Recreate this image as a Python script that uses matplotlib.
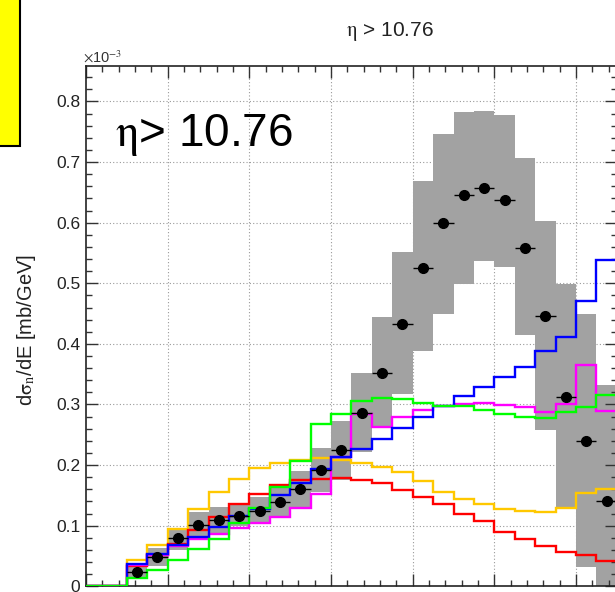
import numpy as np
import matplotlib
matplotlib.use("Agg")
import matplotlib.pyplot as plt
from matplotlib.patches import Rectangle
from matplotlib.ticker import MultipleLocator, FuncFormatter

plt.rcParams['font.family'] = ['Liberation Sans', 'DejaVu Sans']
plt.rcParams['mathtext.fontset'] = 'stix'

# ---------------- data (units: 1e-3 mb/GeV) ----------------
bin_width = 250.0
edges = np.arange(27) * bin_width          # 0 .. 6500 GeV

red     = [0, 0, 0.033, 0.051, 0.069, 0.093, 0.115, 0.136, 0.152, 0.167, 0.175, 0.177, 0.178,
           0.175, 0.170, 0.159, 0.148, 0.135, 0.120, 0.107, 0.090, 0.078, 0.066, 0.057, 0.051, 0.041]
orange  = [0, 0, 0.044, 0.068, 0.095, 0.128, 0.156, 0.177, 0.195, 0.204, 0.208, 0.211, 0.208,
           0.204, 0.197, 0.188, 0.173, 0.156, 0.144, 0.136, 0.127, 0.125, 0.123, 0.130, 0.154, 0.161]
blue    = [0, 0, 0.037, 0.053, 0.068, 0.081, 0.098, 0.116, 0.127, 0.151, 0.170, 0.193, 0.214,
           0.226, 0.243, 0.261, 0.279, 0.297, 0.314, 0.329, 0.345, 0.362, 0.389, 0.411, 0.471, 0.538]
magenta = [0, 0, 0.035, 0.051, 0.066, 0.078, 0.087, 0.096, 0.104, 0.115, 0.130, 0.152, 0.213,
           0.285, 0.263, 0.280, 0.291, 0.298, 0.301, 0.303, 0.299, 0.296, 0.288, 0.300, 0.365, 0.289]
green   = [0, 0, 0.014, 0.027, 0.043, 0.061, 0.078, 0.105, 0.130, 0.164, 0.207, 0.267, 0.285,
           0.306, 0.310, 0.309, 0.302, 0.298, 0.297, 0.291, 0.285, 0.280, 0.277, 0.287, 0.296, 0.315]

# measured data (bins 2..25)
data_bins = np.arange(2, 26)
data_val = [0.023, 0.049, 0.079, 0.101, 0.109, 0.116, 0.124, 0.139, 0.160, 0.192, 0.225, 0.286,
            0.352, 0.432, 0.526, 0.599, 0.645, 0.657, 0.637, 0.559, 0.446, 0.312, 0.239, 0.141]
data_stat = [0.004, 0.004, 0.004, 0.004, 0.004, 0.004, 0.004, 0.004, 0.005, 0.005, 0.005, 0.006,
             0.006, 0.007, 0.007, 0.008, 0.008, 0.008, 0.008, 0.008, 0.008, 0.008, 0.008, 0.008]
sys_hi = [0.033, 0.063, 0.093, 0.122, 0.131, 0.134, 0.147, 0.162, 0.191, 0.228, 0.272, 0.352,
          0.444, 0.551, 0.668, 0.746, 0.782, 0.785, 0.778, 0.706, 0.602, 0.499, 0.449, 0.332]
sys_lo = [0.013, 0.033, 0.060, 0.078, 0.086, 0.099, 0.104, 0.114, 0.129, 0.156, 0.175, 0.222,
          0.264, 0.318, 0.389, 0.450, 0.499, 0.536, 0.527, 0.415, 0.258, 0.131, 0.032, 0.000]

ytick_vals = [0, 0.1, 0.2, 0.3, 0.4, 0.5, 0.6, 0.7, 0.8]

# ---------------- figure ----------------
W, H = 615, 592
fig = plt.figure(figsize=(W / 100, H / 100), dpi=100)
fig.patch.set_facecolor('white')

x0_px, xr_px = 86.0, 616.9
y0_px, yt_px = 586.3, 65.7
ax = fig.add_axes([x0_px / W, (H - y0_px) / H, (xr_px - x0_px) / W, (y0_px - yt_px) / H])
ax.set_xlim(0, 6500)
ax.set_ylim(0, 0.859)

# grid
for v in ytick_vals[1:]:
    ax.axhline(v, color='#9a9a9a', lw=0.8, ls=(0, (1, 2)), zorder=0)
for v in np.arange(1000, 6500, 1000):
    ax.axvline(v, color='#9a9a9a', lw=0.8, ls=(0, (1, 2)), zorder=0)

# systematic boxes
centers = (data_bins + 0.5) * bin_width
ax.bar(centers, np.array(sys_hi) - np.array(sys_lo), bottom=sys_lo, width=bin_width,
       color='#a2a2a2', linewidth=0, zorder=1)

# model histograms
lw = 1.7
ax.stairs(orange, edges, color='#ffc800', lw=lw, baseline=None, zorder=2)
ax.stairs(red, edges, color='#ff0000', lw=lw, baseline=None, zorder=2)
ax.stairs(magenta, edges, color='#ff00ff', lw=lw, baseline=None, zorder=2)
ax.stairs(blue, edges, color='#0000ff', lw=lw, baseline=None, zorder=2)
ax.stairs(green, edges, color='#00ff00', lw=lw, baseline=None, zorder=3)

# data points
ax.errorbar(centers, data_val, xerr=bin_width / 2, yerr=data_stat, fmt='o', color='black',
            ms=7, elinewidth=1, capsize=0, zorder=4)

# axes styling
for s in ax.spines.values():
    s.set_color('#222222')
    s.set_linewidth(1.2)
ax.xaxis.set_major_locator(MultipleLocator(1000))
ax.xaxis.set_minor_locator(MultipleLocator(200))
ax.yaxis.set_major_locator(MultipleLocator(0.1))
ax.yaxis.set_minor_locator(MultipleLocator(0.02))
ax.tick_params(which='both', direction='in', top=True, right=True, bottom=True, left=True,
               color='#333333', width=1.0)
ax.tick_params(which='major', length=8.6)
ax.tick_params(which='minor', length=4.3)
ax.tick_params(axis='x', labelbottom=False)
ax.tick_params(axis='y', labelsize=12.5, pad=4, labelcolor='#222222')
ax.yaxis.set_major_formatter(FuncFormatter(lambda v, p: '0' if abs(v) < 1e-9 else f'{v:.1f}'))

ax.set_ylabel(r'd$\mathrm{\sigma}_{\mathrm{n}}$/dE [mb/GeV]', fontsize=14.5, color='#222222')
ax.yaxis.set_label_coords((38 - x0_px) / (xr_px - x0_px), (y0_px - 330) / (y0_px - yt_px))

# exponent label
fig.text(83 / W, 1 - 63 / H, r'$\times$10$^{-3}$', fontsize=10.5, color='#333333',
         ha='left', va='baseline')

# title
fig.text(390 / W, 1 - 36 / H, r'$\mathrm{\eta}$ > 10.76', fontsize=15, color='#222222',
         ha='center', va='baseline')

# big label
fig.text(115 / W, 1 - 146 / H, r'$\mathrm{\eta}$> 10.76', fontsize=33, color='black',
         ha='left', va='baseline')

# yellow box at top-left
fig.patches.append(Rectangle((-20 / W, 1 - 146 / H), 40 / W, 160 / H, transform=fig.transFigure,
                             facecolor='#ffff00', edgecolor='black', lw=1.5, figure=fig))

fig.savefig('out.png', dpi=100)
